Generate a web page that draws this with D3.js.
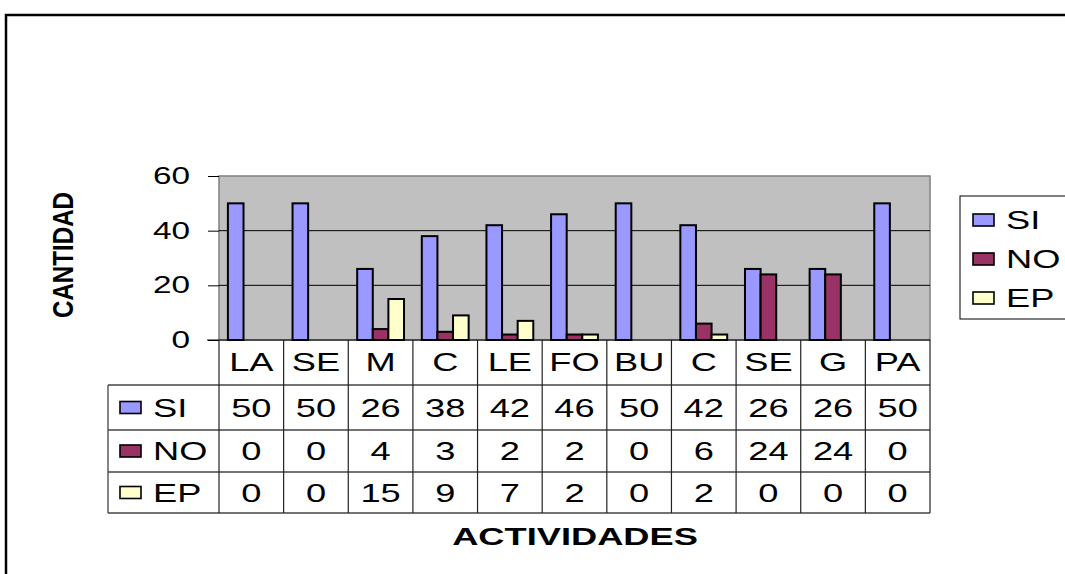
<!DOCTYPE html>
<html>
<head>
<meta charset="utf-8">
<script src="https://cdn.jsdelivr.net/npm/d3@7"></script>
<style>
  body { margin: 0; background: #fff; }
  svg { display: block; font-family: "Liberation Sans", Arial, sans-serif; }
</style>
</head>
<body>
<svg id="chart" width="1065" height="574"></svg>
<script>
// data
const categories = ["LA", "SE", "M", "C", "LE", "FO", "BU", "C", "SE", "G", "PA"];
const seriesNames = ["SI", "NO", "EP"];
const siValues = [50, 50, 26, 38, 42, 46, 50, 42, 26, 26, 50];
const noValues = [0, 0, 4, 3, 2, 2, 0, 6, 24, 24, 0];
const epValues = [0, 0, 15, 9, 7, 2, 0, 2, 0, 0, 0];
const seriesColors = ["#9999ff", "#993366", "#ffffcc"];
const yTicks = [0, 20, 40, 60];

const series = [siValues, noValues, epValues];
const S = 1.45; // the original picture is stretched sideways

const svg = d3.select("#chart");

// text with the horizontal stretch
function sText(g, x, y, txt, size, anchor, weight, sx) {
  return g.append("text")
    .attr("transform", `translate(${x},${y}) scale(${sx || S},1)`)
    .attr("text-anchor", anchor || "middle")
    .attr("font-size", size)
    .attr("font-weight", weight || "normal")
    .attr("fill", "#000")
    .text(txt);
}

// outer frame
svg.append("path")
  .attr("d", "M6,576 L6,15 L1068,15")
  .attr("fill", "none").attr("stroke", "#000").attr("stroke-width", 2.5);

const plotL = 219, plotR = 930, plotT = 176, plotB = 340;

const x0 = d3.scaleBand().domain(d3.range(categories.length)).range([plotL, plotR]);
const x1 = d3.scaleBand().domain(seriesNames).range([0, x0.bandwidth()]).paddingOuter(0.57);
const y = d3.scaleLinear().domain([0, 60]).range([plotB, plotT]);

// plot area
svg.append("rect")
  .attr("x", plotL).attr("y", plotT)
  .attr("width", plotR - plotL).attr("height", plotB - plotT)
  .attr("fill", "#c0c0c0").attr("stroke", "#808080").attr("stroke-width", 1.5);

// gridlines
svg.append("g").selectAll("line")
  .data(yTicks.filter(d => d > 0 && d < 60))
  .join("line")
  .attr("x1", plotL).attr("x2", plotR)
  .attr("y1", d => y(d)).attr("y2", d => y(d))
  .attr("stroke", "#000").attr("stroke-width", 1);

// y axis
const yAxis = svg.append("g")
  .attr("transform", `translate(${plotL},0)`)
  .call(d3.axisLeft(y).tickValues(yTicks).tickSize(11).tickFormat(d3.format("d")));
yAxis.select(".domain").remove();
yAxis.selectAll(".tick line").attr("stroke", "#000");
yAxis.selectAll(".tick text").remove();
yTicks.forEach(t => {
  sText(svg, 190, y(t) + 8, String(t), 23, "end");
});

// bars
const groups = svg.append("g").selectAll("g")
  .data(categories.map((c, i) => i))
  .join("g")
  .attr("transform", i => `translate(${x0(i)},0)`);

groups.selectAll("rect")
  .data(i => seriesNames.map((s, k) => ({ s, k, v: series[k][i] })).filter(d => d.v > 0))
  .join("rect")
  .attr("x", d => x1(d.s))
  .attr("width", x1.bandwidth())
  .attr("y", d => y(d.v))
  .attr("height", d => y(0) - y(d.v))
  .attr("fill", d => seriesColors[d.k])
  .attr("stroke", "#000").attr("stroke-width", 2);

// baseline
svg.append("line")
  .attr("x1", plotL - 12).attr("x2", plotR)
  .attr("y1", y(0)).attr("y2", y(0))
  .attr("stroke", "#000").attr("stroke-width", 1.2);

// data table
const tblL = 108, headB = 385;
const rowLines = [385, 430, 472, 513];
const tbl = svg.append("g");

tbl.selectAll("line.h")
  .data(rowLines)
  .join("line")
  .attr("x1", tblL).attr("x2", plotR)
  .attr("y1", d => d).attr("y2", d => d)
  .attr("stroke", "#444").attr("stroke-width", 1.3);

tbl.selectAll("line.v")
  .data(d3.range(categories.length + 1))
  .join("line")
  .attr("x1", i => plotL + i * x0.step()).attr("x2", i => plotL + i * x0.step())
  .attr("y1", plotB).attr("y2", 513)
  .attr("stroke", "#222").attr("stroke-width", 1.2);

tbl.append("line")
  .attr("x1", tblL).attr("x2", tblL)
  .attr("y1", headB).attr("y2", 513)
  .attr("stroke", "#444").attr("stroke-width", 1.3);

// category labels
categories.forEach((c, i) => {
  sText(tbl, x0(i) + x0.bandwidth() / 2, 371, c, 25);
});

// rows
seriesNames.forEach((s, k) => {
  const cy = (rowLines[k] + rowLines[k + 1]) / 2;
  tbl.append("rect")
    .attr("x", 120).attr("y", cy - 6)
    .attr("width", 21).attr("height", 12)
    .attr("fill", seriesColors[k]).attr("stroke", "#000").attr("stroke-width", 1.6);
  sText(tbl, 153, cy + 9, s, 25, "start");
  series[k].forEach((v, i) => {
    sText(tbl, x0(i) + x0.bandwidth() / 2, cy + 9, String(v), 25);
  });
});

// legend
const leg = svg.append("g");
leg.append("rect")
  .attr("x", 960).attr("y", 196).attr("width", 120).attr("height", 123)
  .attr("fill", "#fff").attr("stroke", "#000").attr("stroke-width", 1);
seriesNames.forEach((s, k) => {
  const cy = 220 + k * 39;
  leg.append("rect")
    .attr("x", 973).attr("y", cy - 6)
    .attr("width", 21).attr("height", 12)
    .attr("fill", seriesColors[k]).attr("stroke", "#000").attr("stroke-width", 1.6);
  sText(leg, 1006, cy + 9, s, 25, "start");
});

// axis titles
sText(svg, 575, 545, "ACTIVIDADES", 24.5, "middle", "bold", 1.48);

svg.append("text")
  .attr("transform", `translate(73,255) scale(${S},1) rotate(-90)`)
  .attr("text-anchor", "middle")
  .attr("font-size", 20)
  .attr("font-weight", "bold")
  .attr("textLength", 126)
  .attr("lengthAdjust", "spacingAndGlyphs")
  .text("CANTIDAD");
</script>
</body>
</html>
